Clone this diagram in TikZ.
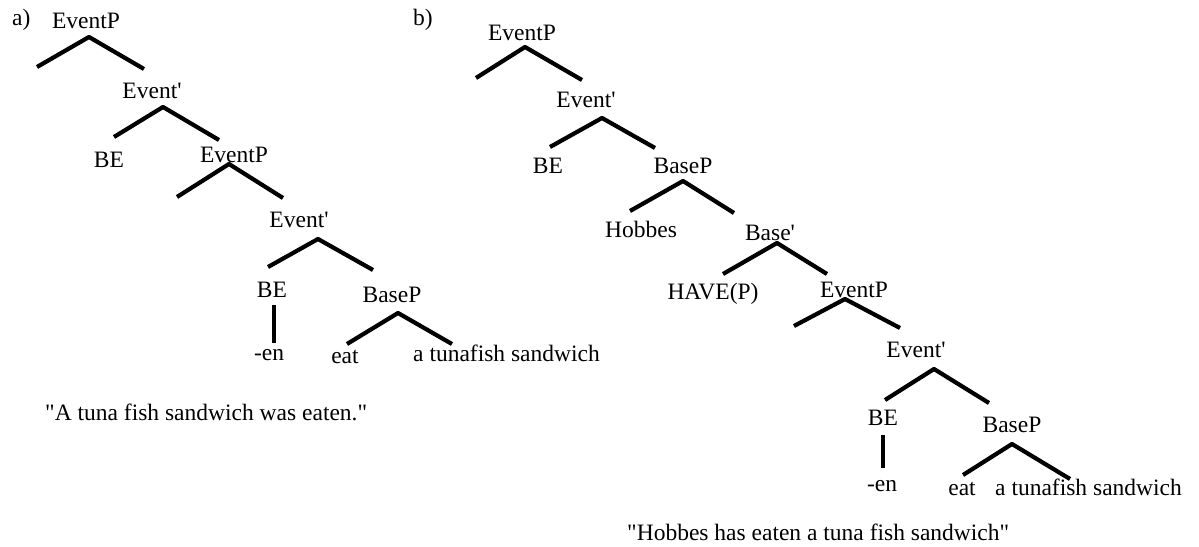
\documentclass[tikz,border=0pt]{standalone}
\usepackage{fontspec}
\setmainfont{Liberation Serif}[Ligatures=TeXOff]
\begin{document}
\begin{tikzpicture}[x=1pt,y=-1pt,
  lbl/.style={anchor=base, inner sep=0pt, font=\fontsize{23.5}{27}\selectfont},
  lblw/.style={lbl, anchor=base west},
  br/.style={line width=4.2pt, line join=round}]
\useasboundingbox (0,0) rectangle (1199,546);

% ---------------- panel a ----------------
\node[lblw] (la) at (12,25) {a)};
\node[lbl] (a1) at (86,28) {EventP};
\node[lbl] (a2) at (152,98) {Event'};
\node[lbl] (a3) at (109,167) {BE};
\node[lbl] (a4) at (234,162) {EventP};
\node[lbl] (a5) at (299,227) {Event'};
\node[lbl] (a6) at (272,297) {BE};
\node[lbl] (a7) at (392,302) {BaseP};
\node[lbl] (a8) at (269,360) {-en};
\node[lbl] (a9) at (345,363) {eat};
\node[lblw] (a10) at (413,361) {a tunafish sandwich};
\node[lblw] (acap) at (45,420) {"A tuna fish sandwich was eaten."};

\coordinate (a1t) at (89,37);   \coordinate (a1l) at (37,67);   \coordinate (a1r) at (144,69);
\coordinate (a2t) at (163,107); \coordinate (a2l) at (114,137); \coordinate (a2r) at (219,140);
\coordinate (a4t) at (229,164); \coordinate (a4l) at (177,197); \coordinate (a4r) at (283,198);
\coordinate (a5t) at (318,239); \coordinate (a5l) at (268,267); \coordinate (a5r) at (373,270);
\coordinate (a6b) at (274,305); \coordinate (a8t) at (274,343);
\coordinate (a7t) at (398,313); \coordinate (a7l) at (347,344); \coordinate (a7r) at (452,344);

\draw[br] (a1l) -- (a1t) -- (a1r);
\draw[br] (a2l) -- (a2t) -- (a2r);
\draw[br] (a4l) -- (a4t) -- (a4r);
\draw[br] (a5l) -- (a5t) -- (a5r);
\draw[br] (a6b) -- (a8t);
\draw[br] (a7l) -- (a7t) -- (a7r);

% ---------------- panel b ----------------
\node[lblw] (lb) at (413,25) {b)};
\node[lbl] (b1) at (522,40) {EventP};
\node[lbl] (b2) at (586,107) {Event'};
\node[lbl] (b3) at (548,173) {BE};
\node[lbl] (b4) at (683,173) {BaseP};
\node[lbl] (b5) at (641,237) {Hobbes};
\node[lbl] (b6) at (770,240) {Base'};
\node[lbl] (b7) at (713,299) {HAVE(P)};
\node[lbl] (b8) at (854,297) {EventP};
\node[lbl] (b9) at (916,357) {Event'};
\node[lbl] (b10) at (883,425) {BE};
\node[lbl] (b11) at (1012,432) {BaseP};
\node[lbl] (b12) at (882,491) {-en};
\node[lbl] (b13) at (962,495) {eat};
\node[lblw] (b14) at (995,495) {a tunafish sandwich};
\node[lblw] (bcap) at (627,540) {"Hobbes has eaten a tuna fish sandwich"};

\coordinate (b1t) at (525,47);   \coordinate (b1l) at (476,78);   \coordinate (b1r) at (582,80);
\coordinate (b2t) at (602,118);  \coordinate (b2l) at (550,147);  \coordinate (b2r) at (655,148);
\coordinate (b4t) at (683,181);  \coordinate (b4l) at (630,211);  \coordinate (b4r) at (734,213);
\coordinate (b6t) at (777,243);  \coordinate (b6l) at (723,274);  \coordinate (b6r) at (827,274);
\coordinate (b8t) at (845,299);  \coordinate (b8l) at (794,326);  \coordinate (b8r) at (900,328);
\coordinate (b9t) at (934,369);  \coordinate (b9l) at (885,400);  \coordinate (b9r) at (989,403);
\coordinate (b10b) at (883,435); \coordinate (b12t) at (883,468);
\coordinate (b11t) at (1012,444); \coordinate (b11l) at (963,475); \coordinate (b11r) at (1070,479);

\draw[br] (b1l) -- (b1t) -- (b1r);
\draw[br] (b2l) -- (b2t) -- (b2r);
\draw[br] (b4l) -- (b4t) -- (b4r);
\draw[br] (b6l) -- (b6t) -- (b6r);
\draw[br] (b8l) -- (b8t) -- (b8r);
\draw[br] (b9l) -- (b9t) -- (b9r);
\draw[br] (b10b) -- (b12t);
\draw[br] (b11l) -- (b11t) -- (b11r);
\end{tikzpicture}
\end{document}
